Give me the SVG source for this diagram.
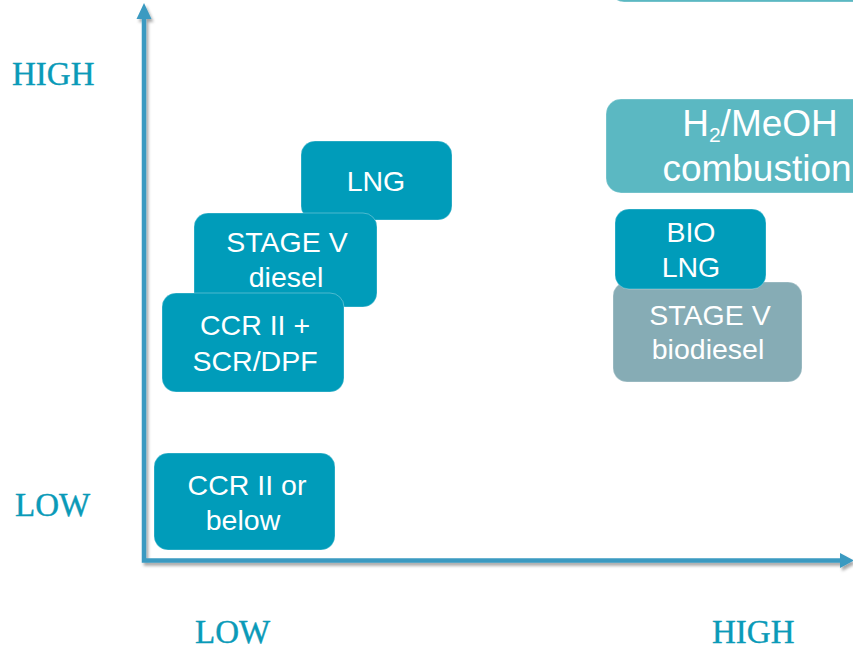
<svg xmlns="http://www.w3.org/2000/svg" width="853" height="650" viewBox="0 0 853 650">
<style>
.box{stroke:#ffffff;stroke-opacity:0.3;stroke-width:1}
.dark{fill:#009CBA}
.light{fill:#5BB8C2}
.gray{fill:#86ACB5}
.t{font-family:"Liberation Sans",Arial,sans-serif;font-size:28.5px;fill:#ffffff;text-anchor:middle}
.big{font-size:37px}
.ax{font-family:"Liberation Serif","Times New Roman",serif;font-size:33px;fill:#0A9AB8;stroke:#0A9AB8;stroke-width:0.4}
.axis{stroke:#3A9AC1;stroke-width:4.5;fill:none}
</style>
<defs>
<filter id="sh" x="-10%" y="-10%" width="120%" height="120%">
<feDropShadow dx="2" dy="3" stdDeviation="1.5" flood-color="#000" flood-opacity="0.35"/>
</filter>
</defs>
<rect width="853" height="650" fill="#ffffff"/>
<g id="axes" filter="url(#sh)">
<path class="axis" d="M144,16 V560.5 H842"/>
<polygon points="144,3 136.5,19 151.5,19" fill="#3A9AC1"/>
<polygon points="854,560.5 840,553 840,568" fill="#3A9AC1"/>
</g>
<g id="labels">
<text class="ax" x="12" y="85">HIGH</text>
<text class="ax" x="15" y="516">LOW</text>
<text class="ax" x="195" y="643">LOW</text>
<text class="ax" x="712" y="643">HIGH</text>
</g>
<g id="top-box"><rect class="box light" x="610" y="-40" width="280" height="42" rx="14"/></g>
<g id="h2-meoh"><rect class="box light" x="606" y="99" width="280" height="94" rx="15"/>
<text class="t big" x="760" y="136">H<tspan font-size="21" dy="6">2</tspan><tspan dy="-6">/MeOH</tspan></text>
<text class="t big" x="757" y="181">combustion</text></g>
<g id="stage-v-biodiesel"><rect class="box gray" x="613" y="282" width="189" height="100" rx="14"/>
<text class="t" x="710" y="325">STAGE V</text>
<text class="t" x="708" y="359">biodiesel</text></g>
<g id="bio-lng"><rect class="box dark" x="615" y="209" width="151" height="80" rx="14"/>
<text class="t" x="691" y="242">BIO</text>
<text class="t" x="691" y="277">LNG</text></g>
<g id="lng"><rect class="box dark" x="301" y="141" width="151" height="79" rx="14"/>
<text class="t" x="376" y="191">LNG</text></g>
<g id="stage-v-diesel"><rect class="box dark" x="194" y="213" width="183" height="94" rx="14"/>
<text class="t" x="287" y="252">STAGE V</text>
<text class="t" x="286" y="287">diesel</text></g>
<g id="ccr-scr"><rect class="box dark" x="162" y="293" width="182" height="99" rx="14"/>
<text class="t" x="255" y="335">CCR II +</text>
<text class="t" x="255" y="371">SCR/DPF</text></g>
<g id="ccr-below"><rect class="box dark" x="154" y="453" width="181" height="97" rx="14"/>
<text class="t" x="247" y="495">CCR II or</text>
<text class="t" x="243" y="530">below</text></g>
</svg>
